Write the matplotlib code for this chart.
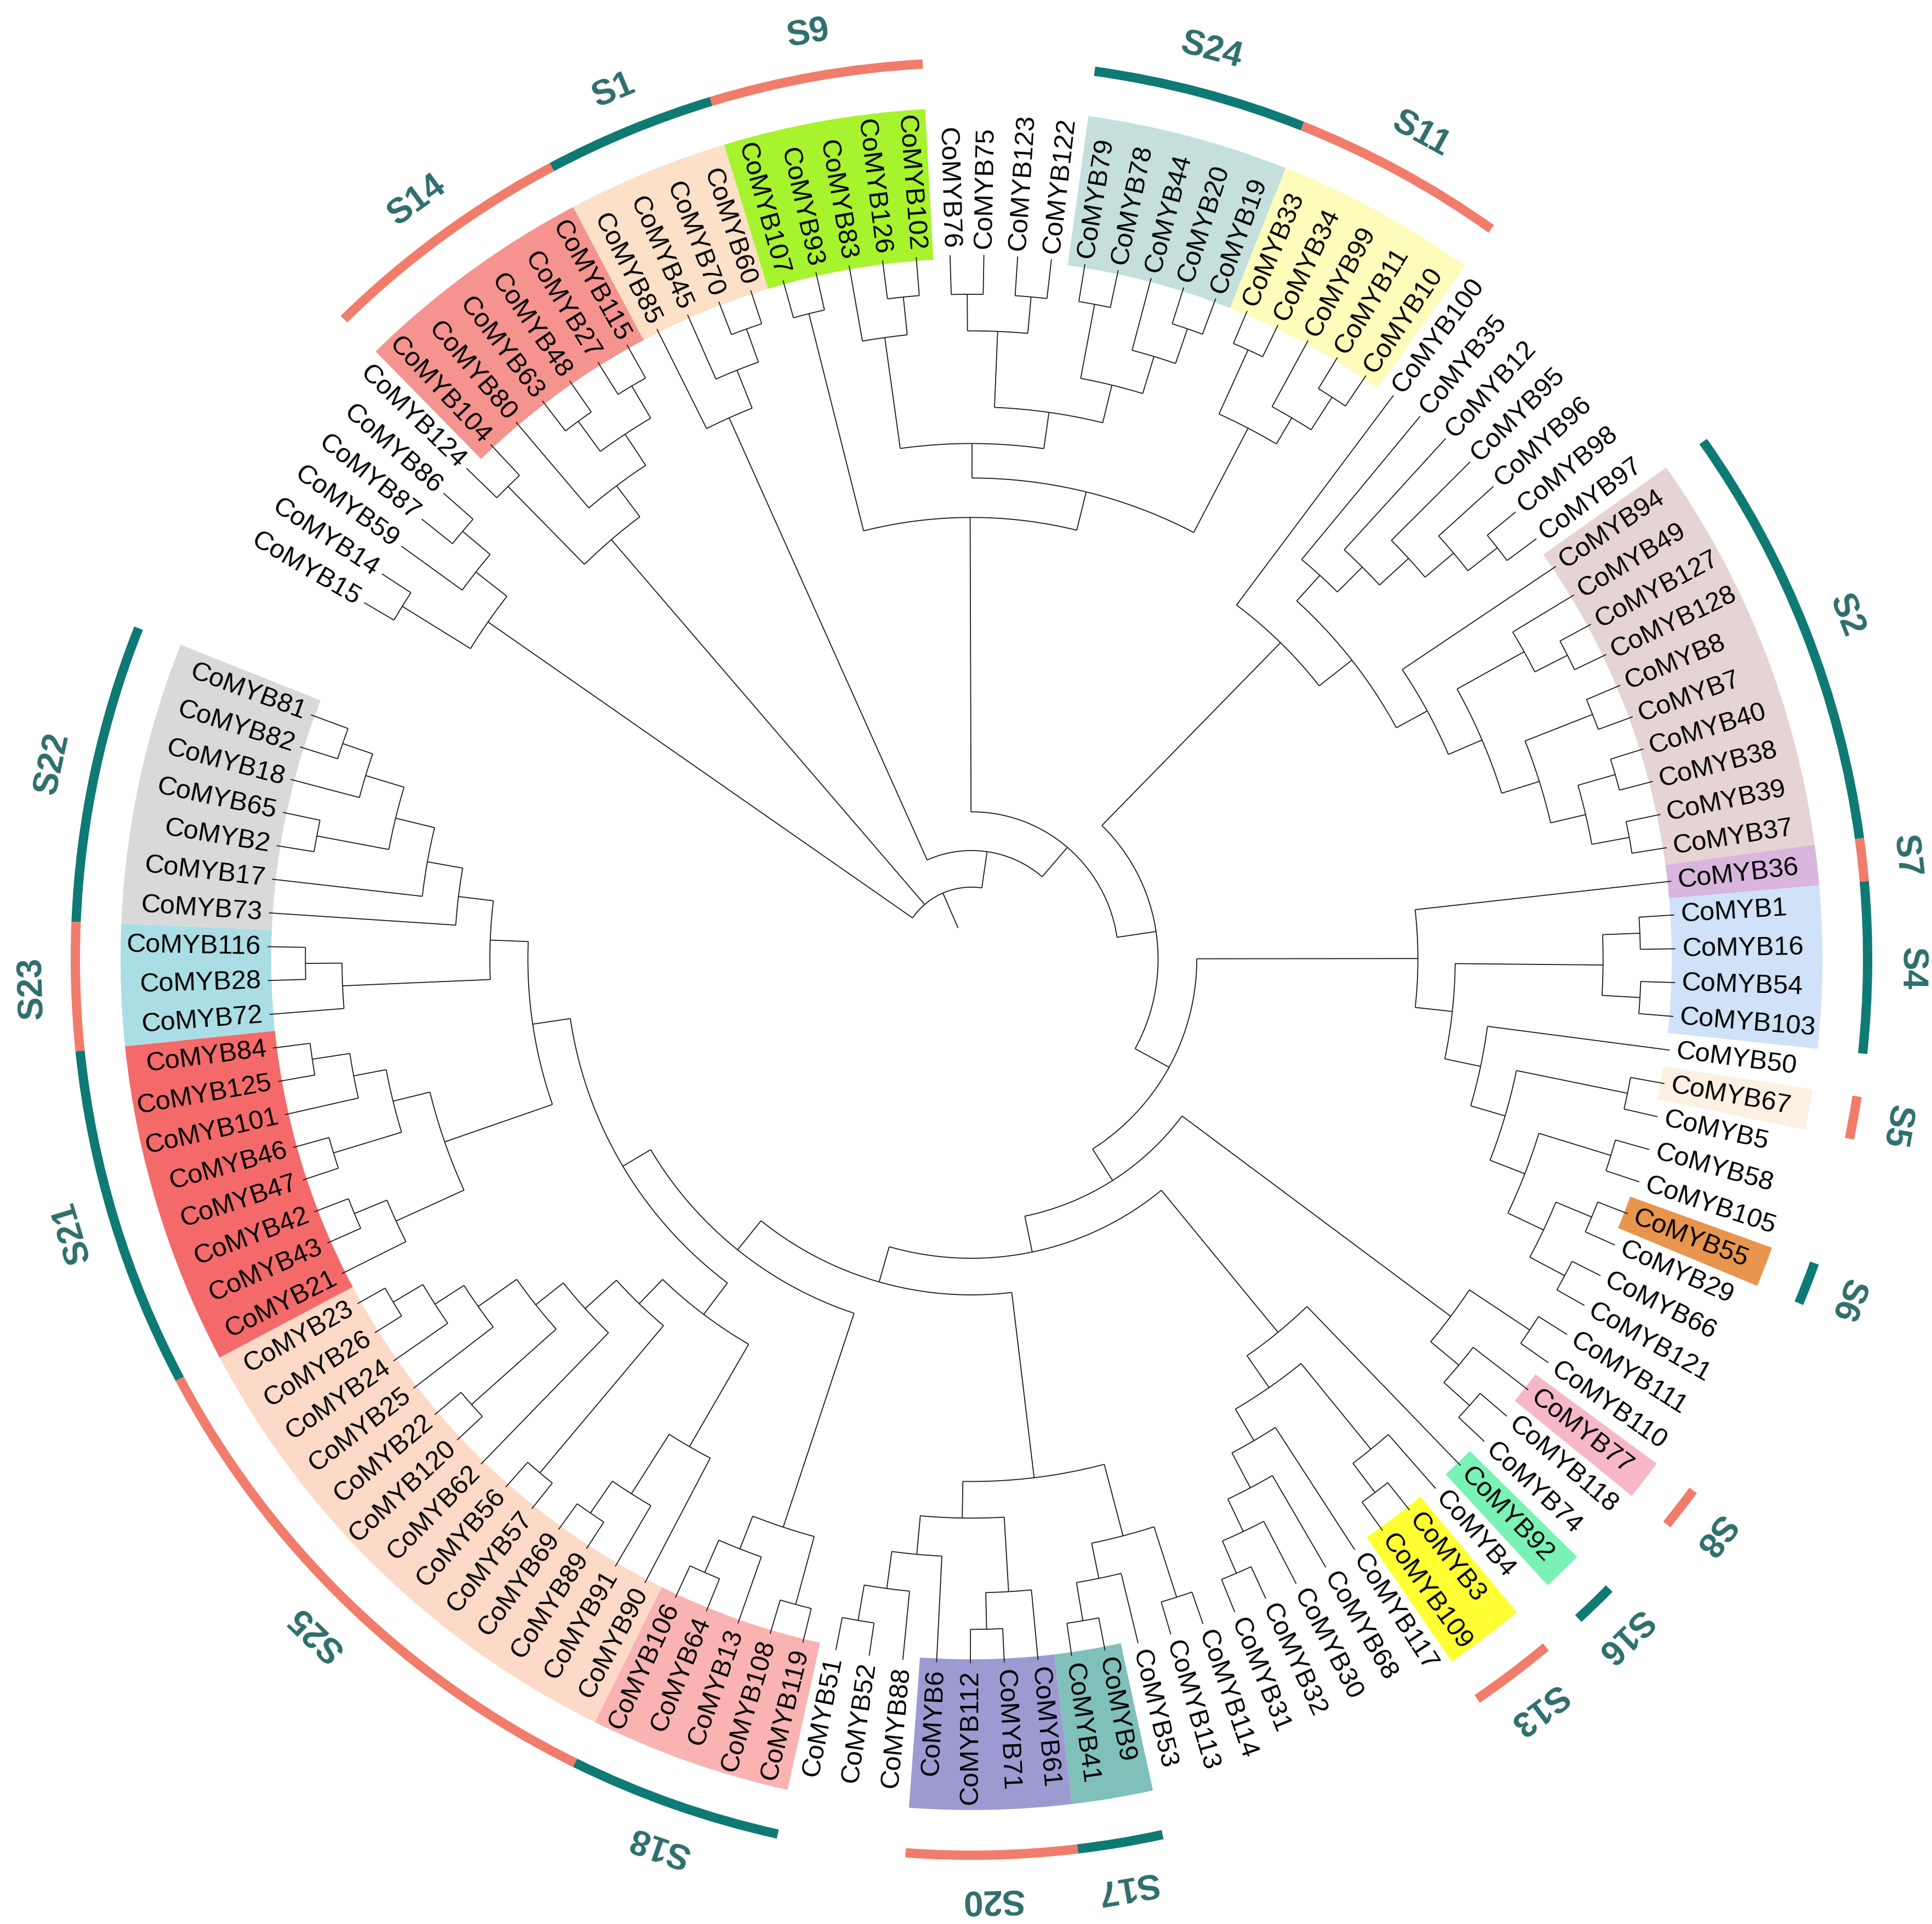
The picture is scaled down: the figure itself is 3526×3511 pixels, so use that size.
import numpy as np
import matplotlib
matplotlib.use('Agg')
import matplotlib.pyplot as plt
from matplotlib.collections import LineCollection
from matplotlib.patches import Wedge

# tree pieces (newick, internal node label = node radius as fraction of tip radius)
C15 = "((15,14)0.951,(59,(87,86)0.944)0.893)0.837"
C14 = "((124,104)0.94,(80,((63,48)0.946,(27,115)0.946)0.893)0.84)0.785"
S1 = "(85,(45,(70,60)0.95)0.9)0.842"
X = ("((83,(126,102)0.945)0.891,(((76,75)0.944,(123,122)0.944)0.892,"
     "((79,78)0.946,(44,(20,19)0.946)0.894)0.839)0.784)0.732")
Y = "((33,34)0.95,(99,(11,10)0.948)0.893)0.85"
Q = f"((107,93)0.945,({X},{Y})0.683)0.627"
N16 = "(35,(12,(95,(96,(98,97)0.948)0.895)0.842)0.786)0.736"
N21 = "(94,((49,(127,128)0.95)0.898,((8,7)0.948,((40,38)0.951,(39,37)0.95)0.896)0.845)0.789)0.737"
N14 = f"(100,({N16},{N21})0.687)0.628"
R3A = ("(36,(((1,16)0.95,(54,103)0.951)0.897,(50,((67,5)0.951,((58,105)0.95,"
       "((55,29)0.954,(66,121)0.955)0.899)0.843)0.79)0.739)0.687)0.634")
R3B1 = "((111,110)0.952,(77,(118,74)0.95)0.901)0.849"
R4 = "(92,((4,(3,109)0.95)0.898,(117,(68,(30,(32,31)0.95)0.9)0.849)0.793)0.741)0.686"
G = ("(((114,113)0.952,(53,(9,41)0.953)0.898)0.847,"
     "((61,(71,112)0.952)0.9,(6,(88,(52,51)0.953)0.902)0.849)0.794)0.742")
S18 = "((119,108)0.95,(13,(64,106)0.95)0.9)0.85"
S25 = ("((90,(91,(89,69)0.955)0.9)0.8,((57,56)0.953,(62,((120,22)0.951,"
       "(25,(24,(26,23)0.955)0.906)0.857)0.79)0.74)0.68)0.632")
K = ("(((21,(43,42)0.948)0.898,((47,46)0.947,(101,(125,84)0.947)0.893)0.846)0.792,"
     "((72,(28,116)0.946)0.894,(73,(17,((2,65)0.946,(18,(82,81)0.944)0.899)0.842)0.785)0.734)0.684)0.63")
R5 = f"({G},({S18},({S25},{K})0.576)0.53)0.477"
R3B = f"({R3B1},({R4},{R5})0.425)0.373"
R2 = f"({N14},({R3A},{R3B})0.32)0.265"
R = f"({Q},{R2})0.209"
B = f"({S1},{R})0.154"
TREE = f"({C15},{C14},{B})0.102;"
ROOT_STUB = 0.048

# first leaf (CoMYB15) angle and angular step, degrees
THETA_START = 149.6
STEP = 2.755

HIGHLIGHTS = [
    ("107", "102", "#a6f32e"), ("85", "60", "#fde0c8"), ("104", "115", "#f5948f"),
    ("79", "19", "#c4dfdc"), ("33", "10", "#fdfcba"), ("94", "37", "#e5d4d3"),
    ("36", "36", "#d8b6dd"), ("1", "103", "#cfe2f7"), ("67", "67", "#fbf0e1"),
    ("55", "55", "#e8954e"), ("77", "77", "#f6b8c8"), ("92", "92", "#7af2b6"),
    ("3", "109", "#ffff33"), ("9", "41", "#80c0ba"), ("61", "6", "#9c9bd1"),
    ("119", "106", "#f9b3b3"), ("90", "23", "#fdd9c7"), ("21", "84", "#f46a6a"),
    ("72", "116", "#abdee4"), ("73", "81", "#d9d9d9"),
]

TEAL = "#0f7a74"
SALMON = "#f27c6b"
SUBGROUPS = [
    ("S9", "107", "102", SALMON), ("S1", "85", "60", TEAL), ("S14", "104", "115", SALMON),
    ("S24", "79", "19", TEAL), ("S11", "33", "10", SALMON), ("S2", "94", "37", TEAL),
    ("S7", "36", "36", SALMON), ("S4", "1", "103", TEAL), ("S5", "67", "67", SALMON),
    ("S6", "55", "55", TEAL), ("S8", "77", "77", SALMON), ("S16", "92", "92", TEAL),
    ("S13", "3", "109", SALMON), ("S17", "9", "41", TEAL), ("S20", "61", "6", SALMON),
    ("S18", "119", "106", TEAL), ("S25", "90", "23", SALMON), ("S21", "21", "84", TEAL),
    ("S23", "72", "116", SALMON), ("S22", "73", "81", TEAL),
]

W, H = 3526, 3512
CX, CY = 1773, H - 1751
R_TIP = 1285
R_LABEL = 1297
HL_IN, HL_OUT = 1278, 1553
ARC_R, ARC_W = 1644, 17
SLAB_R = 1715


def parse_newick(s):
    pos = 0

    def read_label():
        nonlocal pos
        start = pos
        while s[pos] not in ',();':
            pos += 1
        return s[start:pos]

    def node():
        nonlocal pos
        if s[pos] == '(':
            pos += 1
            kids = [node()]
            while s[pos] == ',':
                pos += 1
                kids.append(node())
            pos += 1
            return {'kids': kids, 'r': float(read_label())}
        return {'name': read_label(), 'r': 1.0}

    return node()


def xy(r, a):
    t = np.radians(a)
    return CX + r * np.cos(t), CY + r * np.sin(t)


root = parse_newick(TREE)
leaves = []


def place(n):
    if 'kids' not in n:
        n['a'] = THETA_START - len(leaves) * STEP
        leaves.append(n)
        return
    for k in n['kids']:
        place(k)
    n['a'] = (n['kids'][0]['a'] + n['kids'][-1]['a']) / 2


place(root)
angle = {n['name']: n['a'] for n in leaves}

segs = []


def collect(n):
    if 'kids' not in n:
        return
    r = n['r'] * R_TIP
    a0, a1 = n['kids'][0]['a'], n['kids'][-1]['a']
    ts = np.linspace(a0, a1, max(2, int(abs(a0 - a1) * 3)))
    segs.append(np.column_stack(xy(r, ts)))
    for k in n['kids']:
        p0 = xy(r, k['a'])
        p1 = xy(k['r'] * R_TIP, k['a'])
        segs.append([p0, p1])
        collect(k)


collect(root)
segs.append([xy(ROOT_STUB * R_TIP, root['a']), xy(root['r'] * R_TIP, root['a'])])

fig = plt.figure(figsize=(W / 100, H / 100), dpi=100)
ax = fig.add_axes([0, 0, 1, 1])
ax.set_xlim(0, W)
ax.set_ylim(0, H)
ax.axis('off')

for first, last, col in HIGHLIGHTS:
    t2 = angle[first] + STEP / 2
    t1 = angle[last] - STEP / 2
    ax.add_patch(Wedge((CX, CY), HL_OUT, t1, t2, width=HL_OUT - HL_IN,
                       facecolor=col, edgecolor='none', zorder=1))

ax.add_collection(LineCollection(segs, colors='#1a1a1a', linewidths=1.3, zorder=2))

for n in leaves:
    a = n['a']
    x, y = xy(R_LABEL, a)
    if np.cos(np.radians(a)) >= 0:
        rot, ha = a, 'left'
    else:
        rot, ha = a + 180, 'right'
    ax.text(x, y, 'CoMYB' + n['name'], rotation=rot % 360, rotation_mode='anchor',
            ha=ha, va='center', fontsize=35, family='Liberation Sans',
            color='black', zorder=3)

for name, first, last, col in SUBGROUPS:
    t2 = angle[first] + STEP / 2
    t1 = angle[last] - STEP / 2
    ax.add_patch(Wedge((CX, CY), ARC_R, t1, t2, width=ARC_W,
                       facecolor=col, edgecolor='none', zorder=1))
    mid = (t1 + t2) / 2
    x, y = xy(SLAB_R, mid)
    ax.text(x, y, name, rotation=(mid - 90) % 360, rotation_mode='anchor',
            ha='center', va='center', fontsize=46, fontweight='bold',
            family='Liberation Sans', color='#2e6e6c', zorder=3)

fig.savefig('out.png', dpi=100)
